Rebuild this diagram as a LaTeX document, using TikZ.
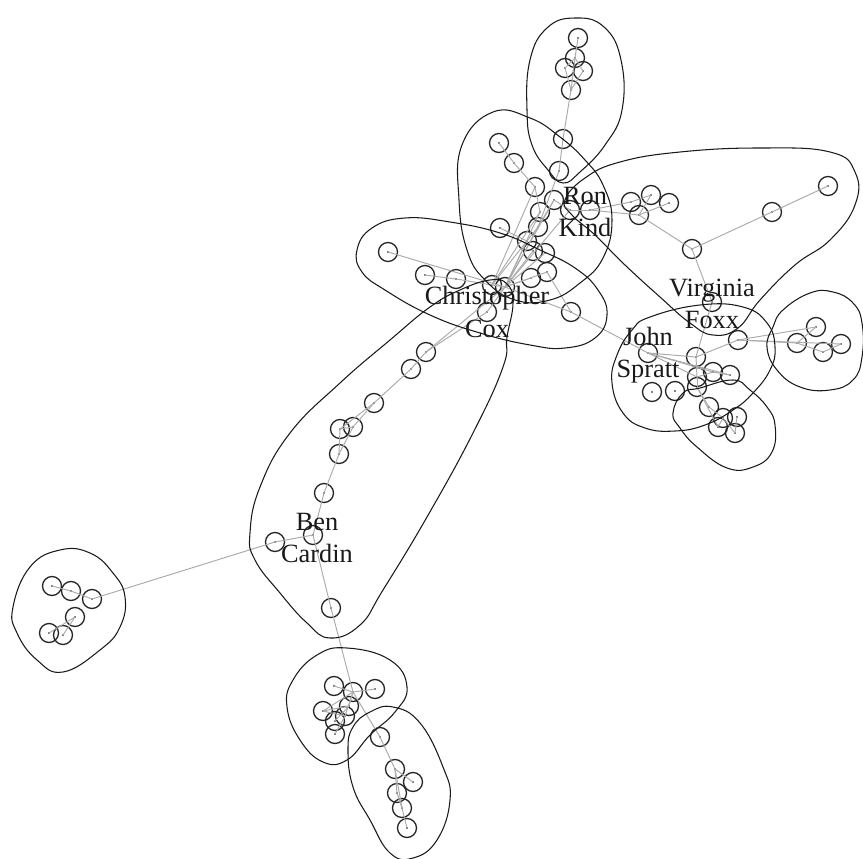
\documentclass[tikz,border=0pt]{standalone}
\usepackage{fontspec}
\setmainfont{Liberation Serif}
\begin{document}
\begin{tikzpicture}[x=0.02cm,y=-0.02cm,
  vtx/.style={circle,draw=black!85,line width=0.75pt,minimum size=0.38cm,inner sep=0pt},
  edge/.style={draw=black!33,line width=0.55pt},
  hull/.style={draw=black!90,line width=0.6pt,smooth cycle,tension=0.75},
  lbl/.style={align=center,text=black!90,font=\fontsize{15}{18.6}\selectfont,inner sep=0pt}]
\useasboundingbox (0,0) rectangle (863,859);
% vertices
\foreach \n/\x/\y in {
 t1/578/38, t2/575/58, t3/565/68, t4/583/71, t5/571/90, t6/563/139, t7/559/171,
 r1/499/143, r2/514/163, r3/535/187, r4/554/200, r5/540/212, r6/570/210, r7/590/210,
 r8/500/228, r9/538/227, r10/527/241, r11/533/251, r12/545/253, r13/547/272, r14/531/278,
 c1/388/252, c2/425/275, c3/456/279, c4/492/285, c5/505/287, c6/487/312, c7/571/312,
 f1/631/202, f2/651/195, f3/669/203, f4/639/215, f5/692/249, f6/772/212, f7/828/186, f8/712/302,
 s1/648/353, s2/696/357, s3/697/377, s4/713/372, s5/730/375, s6/697/387, s7/652/392, s8/675/391, s9/738/340,
 l1/709/407, l2/723/418, l3/737/417, l4/718/427, l5/735/433,
 q1/816/327, q2/797/343, q3/823/352, q4/841/344,
 b1/426/352, b2/411/369, b3/374/403, b4/353/427, b5/340/429, b6/339/454, b7/324/493, b8/313/535, b9/275/542, b10/331/608,
 e1/52/586, e2/71/591, e3/92/599, e4/75/617, e5/49/633, e6/63/635,
 g1/334/686, g2/353/692, g3/375/689, g4/323/711, g5/349/706, g6/345/716, g7/335/721, g8/335/734,
 h1/380/737, h2/395/769, h3/413/782, h4/397/793, h5/402/808, h6/407/828}
{ \node[vtx] (\n) at (\x,\y) {}; \fill[black] (\x,\y) circle (0.55pt); }
% edges
\foreach \a/\b in {t1/t2, t2/t3, t2/t4, t2/t5, t3/t5, t4/t5, t5/t6, t6/t7, t7/r9,
 r1/r2, r2/r3, r3/r5, r3/c4, r4/r6, r6/r7, r4/r9, r8/r10, r5/c5, r9/c5, r10/c5, r11/c5, r12/c5, r13/c5, r14/c5, r4/c5, r6/c5, r5/c4, r9/c4,
 r7/f1, r7/f4, f1/f2, f2/f4, f4/f3, f4/f5, f5/f6, f6/f7, f5/f8, f8/s2,
 c1/c5, c2/c3, c3/c4, c4/c5, c5/c7, r13/c7, c6/c5, c6/b1, c5/b1, c7/s1,
 b1/b2, b2/b3, b3/b4, b3/b5, b4/b5, b4/b6, b5/b6, b6/b7, b7/b8, b8/b9, b9/e3, b8/b10, b10/g2,
 e1/e2, e2/e3, e4/e5, e4/e6,
 g1/g2, g2/g3, g2/g4, g2/g5, g4/g6, g4/g5, g5/g7, g6/g8, g2/g6,
 g2/h1, h1/h2, h2/h3, h2/h4, h4/h5, h5/h6, h2/h5,
 s1/s2, s1/s3, s1/s4, s1/s5, s2/s9, s9/q1, s9/q2, q1/q2, q2/q3, q3/q4, s9/q4, s2/s3, s3/s4, s4/s5, s3/s6, s6/l1, l1/l2, l2/l4, l2/l5, l3/l5, s6/l4}
{ \draw[edge] (\a.center) -- (\b.center); }
% group hulls
\draw[hull] plot coordinates {(575,18) (604,27) (621,60) (622,110) (605,145) (580,172) (563,183) (548,170) (532,145) (527,110) (530,60) (547,28)};
\draw[hull] plot coordinates {(493,112) (530,118) (560,137) (585,160) (603,185) (612,220) (603,258) (580,283) (550,300) (515,300) (485,280) (467,250) (459,200) (462,145)};
\draw[hull] plot coordinates {(357,250) (372,228) (405,218) (450,222) (500,233) (540,250) (575,268) (598,290) (607,315) (595,338) (565,348) (530,345) (480,333) (430,315) (385,290) (362,272)};
\draw[hull] plot coordinates {(565,200) (585,178) (620,162) (680,152) (760,148) (830,152) (855,172) (855,205) (830,240) (795,265) (760,300) (738,328) (713,335) (690,323) (660,297) (625,265) (595,235) (572,215)};
\draw[hull] plot coordinates {(650,317) (700,305) (743,307) (767,323) (775,347) (770,370) (753,393) (733,410) (705,425) (675,431) (645,428) (623,413) (612,383) (617,355) (632,330)};
\draw[hull] plot coordinates {(683,393) (700,388) (733,380) (750,390) (767,407) (775,425) (772,452) (753,467) (727,468) (697,447) (680,428) (673,413)};
\draw[hull] plot coordinates {(773,327) (783,310) (810,293) (833,292) (853,303) (862,323) (862,357) (853,380) (830,390) (800,387) (777,370) (767,347)};
\draw[hull] plot coordinates {(430,307) (460,290) (490,280) (507,284) (513,303) (507,337) (503,367) (473,433) (427,517) (383,590) (360,625) (330,638) (307,623) (280,593) (255,560) (250,533) (260,487) (290,433) (340,383) (390,340)};
\draw[hull] plot coordinates {(60,550) (90,553) (113,573) (125,597) (120,627) (100,650) (63,672) (37,660) (17,633) (13,607) (30,567)};
\draw[hull] plot coordinates {(347,648) (390,660) (407,687) (395,712) (370,735) (347,760) (323,762) (300,740) (287,707) (293,680) (317,655)};
\draw[hull] plot coordinates {(370,712) (393,707) (420,723) (443,767) (450,800) (437,840) (413,858) (390,853) (370,820) (353,787) (348,750) (353,727)};
% labels
\node[lbl] (lRK) at (585,212) {Ron\\Kind};
\node[lbl] (lCC) at (487,312) {Christopher\\Cox};
\node[lbl] (lVF) at (712,304) {Virginia\\Foxx};
\node[lbl] (lJS) at (648,355) {John\\Spratt};
\node[lbl] (lBC) at (317,538) {Ben\\Cardin};
\end{tikzpicture}
\end{document}
